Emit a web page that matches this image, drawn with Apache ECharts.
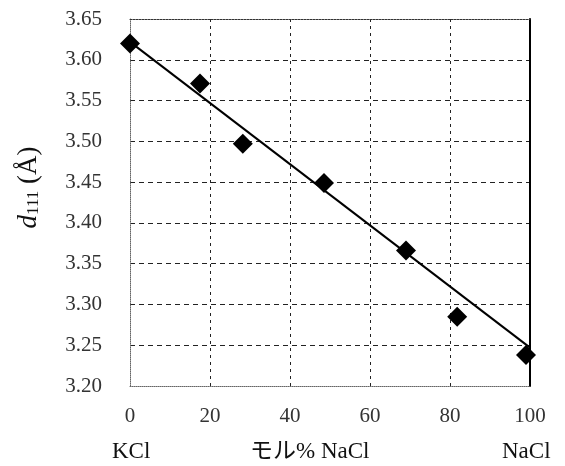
<!DOCTYPE html>
<html>
<head>
<meta charset="utf-8">
<script src="https://cdn.jsdelivr.net/npm/echarts@6/dist/echarts.min.js"></script>
<style>
  html, body { margin: 0; padding: 0; background: #fff; }
  #chart { width: 565px; height: 466px; }
</style>
</head>
<body>
<div id="chart"></div>
<script>
// mol% NaCl vs d111 spacing
const molPct = [0, 17.5, 28.2, 48.5, 69, 81.8, 99];
const d111 = [3.62, 3.571, 3.497, 3.449, 3.366, 3.285, 3.238];
const fitX = [0, 100];
const fitY = [3.622, 3.247];
const xTicks = [0, 20, 40, 60, 80, 100];
const yTicks = [3.2, 3.25, 3.3, 3.35, 3.4, 3.45, 3.5, 3.55, 3.6, 3.65];

const serif = "'Liberation Serif', 'DejaVu Serif', 'Noto Sans CJK JP', serif";

const chart = echarts.init(document.getElementById("chart"));

chart.setOption({
  animation: false,
  backgroundColor: "#fff",
  grid: { left: 130, right: 35, top: 19, bottom: 80 },
  xAxis: [
    {
      type: "value",
      min: xTicks[0],
      max: xTicks[xTicks.length - 1],
      interval: 20,
      axisLine: { show: true, onZero: false, lineStyle: { color: "#666", width: 1, type: [1, 1] } },
      axisTick: { show: false },
      axisLabel: { margin: 20, fontFamily: serif, fontSize: 21, color: "#333" },
      splitLine: {
        show: true,
        showMinLine: false,
        showMaxLine: false,
        lineStyle: { color: "#222", width: 1, type: [3, 4] },
      },
    },
    {
      type: "value",
      position: "top",
      min: 0,
      max: 100,
      axisLine: { show: true, onZero: false, lineStyle: { color: "#333", width: 1, type: [2, 1] } },
      axisTick: { show: false },
      axisLabel: { show: false },
      splitLine: { show: false },
    },
  ],
  yAxis: [
    {
      type: "value",
      min: yTicks[0],
      max: yTicks[yTicks.length - 1],
      interval: 0.05,
      axisLine: { show: true, onZero: false, lineStyle: { color: "#666", width: 1, type: [1, 1] } },
      axisTick: { show: false },
      axisLabel: {
        margin: 28,
        fontFamily: serif,
        fontSize: 21,
        color: "#333",
        formatter: (v) => v.toFixed(2),
      },
      splitLine: {
        show: true,
        showMinLine: false,
        showMaxLine: false,
        lineStyle: { color: "#222", width: 1, type: [5, 4] },
      },
      name: "{i|d}{s|111} (Å)",
      nameLocation: "middle",
      nameGap: 88,
      nameRotate: 90,
      nameTextStyle: {
        fontFamily: serif,
        fontSize: 27,
        color: "#111",
        padding: [0, 0, 0, 30],
        rich: {
          i: { fontFamily: serif, fontSize: 27, fontStyle: "italic", color: "#111" },
          s: { fontFamily: serif, fontSize: 17, color: "#111", padding: [10, 0, 0, 0] },
        },
      },
    },
    {
      type: "value",
      position: "right",
      min: 3.2,
      max: 3.65,
      axisLine: { show: true, onZero: false, lineStyle: { color: "#000", width: 2 } },
      axisTick: { show: false },
      axisLabel: { show: false },
      splitLine: { show: false },
    },
  ],
  series: [
    {
      name: "fit",
      type: "line",
      data: fitX.map((x, i) => [x, fitY[i]]),
      symbol: "none",
      lineStyle: { color: "#000", width: 2 },
      z: 3,
    },
    {
      name: "d111",
      type: "scatter",
      data: molPct.map((x, i) => [x, d111[i]]),
      symbol: "diamond",
      symbolSize: 20,
      itemStyle: { color: "#000", opacity: 1 },
      z: 4,
    },
  ],
  graphic: [
    {
      type: "text",
      left: 112,
      top: 440,
      style: { text: "KCl", fontFamily: serif, fontSize: 23, fill: "#111" },
    },
    {
      type: "text",
      left: 250,
      top: 440,
      style: { text: "モル% NaCl", fontFamily: serif, fontSize: 23, fill: "#111" },
    },
    {
      type: "text",
      left: 502,
      top: 440,
      style: { text: "NaCl", fontFamily: serif, fontSize: 23, fill: "#111" },
    },
  ],
});
</script>
</body>
</html>
